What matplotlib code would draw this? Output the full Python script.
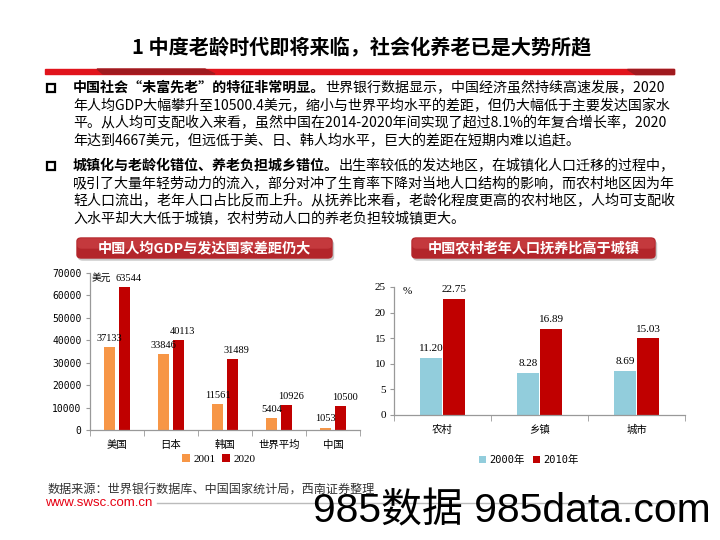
import matplotlib
matplotlib.use('Agg')
import matplotlib.pyplot as plt
from matplotlib.patches import Rectangle, Polygon, FancyBboxPatch
from matplotlib.text import Annotation
import numpy as np

plt.rcParams['font.family'] = ['Noto Sans CJK SC', 'DejaVu Sans']

# ---- data ----
countries = ['美国', '日本', '韩国', '世界平均', '中国']
gdp_2001 = [37133, 33846, 11561, 5404, 1053]
gdp_2020 = [63544, 40113, 31489, 10926, 10500]
gdp_ticks = [0, 10000, 20000, 30000, 40000, 50000, 60000, 70000]

areas = ['农村', '乡镇', '城市']
ratio_2000 = [11.20, 8.28, 8.69]
ratio_2010 = [22.75, 16.89, 15.03]
ratio_ticks = [0, 5, 10, 15, 20, 25]

title = '1 中度老龄时代即将来临，社会化养老已是大势所趋'
bullet1 = [('中国社会“未富先老”的特征非常明显。', '世界银行数据显示，中国经济虽然持续高速发展，2020'),
           ('', '年人均GDP大幅攀升至10500.4美元，缩小与世界平均水平的差距，但仍大幅低于主要发达国家水'),
           ('', '平。从人均可支配收入来看，虽然中国在2014-2020年间实现了超过8.1%的年复合增长率，2020'),
           ('', '年达到4667美元，但远低于美、日、韩人均水平，巨大的差距在短期内难以追赶。')]
bullet2 = [('城镇化与老龄化错位、养老负担城乡错位。', '出生率较低的发达地区，在城镇化人口迁移的过程中，'),
           ('', '吸引了大量年轻劳动力的流入，部分对冲了生育率下降对当地人口结构的影响，而农村地区因为年'),
           ('', '轻人口流出，老年人口占比反而上升。从抚养比来看，老龄化程度更高的农村地区，人均可支配收'),
           ('', '入水平却大大低于城镇，农村劳动人口的养老负担较城镇更大。')]

W, H = 720, 540
def fx(x):
    return x / W
def fy(y):
    return 1 - y / H

fig = plt.figure(figsize=(7.2, 5.4), dpi=100)

# title + red band
fig.text(fx(362), fy(48), title, fontsize=14.5, fontweight='bold', ha='center', va='center')
fig.patches.append(Rectangle((fx(45), fy(74)), (674 - 45) / W, 5 / H, transform=fig.transFigure,
                             color='#E1141C', zorder=1))
fig.patches.append(Polygon([(fx(97), fy(69)), (fx(205), fy(69)), (fx(215), fy(74)), (fx(103), fy(74))],
                           closed=True, transform=fig.transFigure, color='#A01A1F', zorder=2))
fig.patches.append(Polygon([(fx(627), fy(69)), (fx(674), fy(69)), (fx(674), fy(74)), (fx(635), fy(74))],
                           closed=True, transform=fig.transFigure, color='#A01A1F', zorder=2))

# bullet paragraphs
def paragraph(lines, y0):
    fig.patches.append(Rectangle((fx(46.5), fy(y0 + 4)), 8 / W, 8 / H, transform=fig.transFigure,
                                 fill=False, ec='black', lw=1.6))
    for i, (bold, rest) in enumerate(lines):
        y = fy(y0 + i * 17.7)
        if bold:
            t = fig.text(fx(73), y, bold, fontsize=10.1, fontweight='bold', ha='left', va='center')
            fig.add_artist(Annotation(rest, xy=(1, 0.5), xycoords=t, ha='left', va='center', fontsize=10.1))
        else:
            fig.text(fx(73), y, rest, fontsize=10.1, ha='left', va='center')

paragraph(bullet1, 88)
paragraph(bullet2, 166)

# banners
def banner(x0, x1, text):
    shadow = FancyBboxPatch((fx(x0 + 1.5), fy(260)), (x1 - x0) / W, 19 / H, boxstyle='round,pad=0,rounding_size=0.006',
                            transform=fig.transFigure, color='#C8C8C8', zorder=1)
    box = FancyBboxPatch((fx(x0), fy(258)), (x1 - x0) / W, 20 / H, boxstyle='round,pad=0,rounding_size=0.006',
                         transform=fig.transFigure, color='#B3252A', zorder=2)
    top = FancyBboxPatch((fx(x0 + 1), fy(248)), (x1 - x0 - 2) / W, 9 / H, boxstyle='round,pad=0,rounding_size=0.005',
                         transform=fig.transFigure, color='#C4393D', zorder=2)
    fig.patches.append(shadow)
    fig.patches.append(box)
    fig.patches.append(top)
    fig.text(fx((x0 + x1) / 2), fy(248), text, fontsize=10.2, fontweight='bold', color='white',
             ha='center', va='center', zorder=3)

banner(77, 332, '中国人均GDP与发达国家差距仍大')
banner(412, 655, '中国农村老年人口抚养比高于城镇')

axis_color = '#999999'
serif = ['Liberation Serif', 'Noto Sans CJK SC']

def style_axes(ax, n):
    for s in ['top', 'right']:
        ax.spines[s].set_visible(False)
    for s in ['left', 'bottom']:
        ax.spines[s].set_color(axis_color)
        ax.spines[s].set_linewidth(0.9)
    ax.set_xlim(-0.5, n - 0.5)
    ax.set_xticks(np.arange(n))
    ax.set_xticks(np.arange(n + 1) - 0.5, minor=True)
    ax.tick_params(axis='x', which='major', length=0, pad=7)
    ax.tick_params(axis='x', which='minor', length=4, color=axis_color, direction='out')
    ax.tick_params(axis='y', length=3, color=axis_color, direction='out', pad=3)

# chart 1: GDP per capita
ax1 = fig.add_axes([fx(90), fy(430), (360 - 90) / W, (430 - 273) / H])
x = np.arange(len(countries))
b1 = ax1.bar(x - 0.14, gdp_2001, width=0.21, color='#F79646', label='2001')
b2 = ax1.bar(x + 0.14, gdp_2020, width=0.21, color='#C00000', label='2020')
ax1.set_ylim(0, 70000)
ax1.set_yticks(gdp_ticks)
ax1.set_yticklabels([str(v) for v in gdp_ticks], family='DejaVu Sans Mono', fontsize=7)
style_axes(ax1, len(countries))
ax1.set_xticklabels(countries, fontsize=7.5)
for bars, dx in ((b1, 0), (b2, 3)):
    for r in bars:
        ax1.annotate('%d' % r.get_height(), (r.get_x() + r.get_width() / 2, r.get_height()),
                     xytext=(dx, 3), textcoords='offset points', ha='center', va='bottom',
                     family=serif, fontsize=7.5)
ax1.text(0.005, 1.0, '美元', transform=ax1.transAxes, fontsize=7, ha='left', va='top', family=serif)
ax1.legend(handles=[b1, b2], loc='center', bbox_to_anchor=(fx(219), fy(459)), bbox_transform=fig.transFigure,
           ncol=2, frameon=False, handlelength=0.7, handleheight=0.7, handletextpad=0.3, columnspacing=0.6,
           prop={'family': serif, 'size': 8})

# chart 2: dependency ratio
ax2 = fig.add_axes([fx(394), fy(415), (685 - 394) / W, (415 - 287) / H])
x2 = np.arange(len(areas))
c1 = ax2.bar(x2 - 0.12, ratio_2000, width=0.23, color='#92CDDC', label='2000年')
c2 = ax2.bar(x2 + 0.12, ratio_2010, width=0.23, color='#C00000', label='2010年')
ax2.set_ylim(0, 25)
ax2.set_yticks(ratio_ticks)
ax2.set_yticklabels([str(v) for v in ratio_ticks], family=serif, fontsize=8)
style_axes(ax2, len(areas))
ax2.set_xticklabels(areas, fontsize=7.5)
for bars in (c1, c2):
    for r in bars:
        ax2.annotate('%.2f' % r.get_height(), (r.get_x() + r.get_width() / 2, r.get_height()),
                     xytext=(0, 3), textcoords='offset points', ha='center', va='bottom',
                     family=serif, fontsize=8)
ax2.text(0.03, 1.0, '%', transform=ax2.transAxes, fontsize=8, ha='left', va='top', family=serif)
ax2.legend(handles=[c1, c2], loc='center', bbox_to_anchor=(fx(529), fy(460)), bbox_transform=fig.transFigure,
           ncol=2, frameon=False, handlelength=0.7, handleheight=0.7, handletextpad=0.3, columnspacing=0.8,
           prop={'family': ['DejaVu Sans Mono', 'Noto Sans CJK SC'], 'size': 7.5})

# footer
fig.text(fx(48), fy(490), '数据来源：世界银行数据库、中国国家统计局，西南证券整理', fontsize=8.7, color='#333333',
         ha='left', va='center', style='italic')
fig.text(fx(45), fy(503), 'www.swsc.com.cn', fontsize=9.5, color='#E60012', family='Liberation Sans',
         ha='left', va='center')
fig.lines.append(plt.Line2D([fx(157), fx(676)], [fy(503), fy(503)], transform=fig.transFigure,
                            color='#BBBBBB', lw=1))
fig.text(fx(313), fy(511), '985数据 985data.com', fontsize=29.4, color='black',
         family=['Liberation Sans', 'Noto Sans CJK SC'], ha='left', va='center')

fig.savefig('out.png', dpi=100)
